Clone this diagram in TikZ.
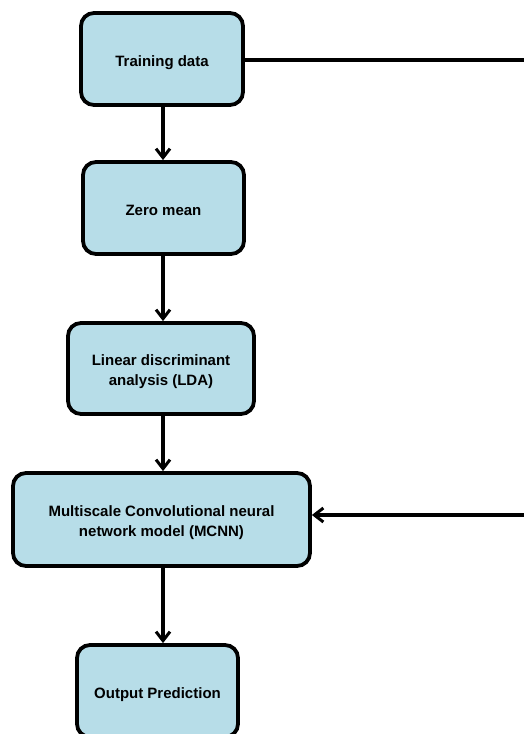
\documentclass[tikz,border=0pt]{standalone}
\usepackage{fontspec}
\setmainfont{Liberation Sans}
\usetikzlibrary{arrows.meta}
\definecolor{boxfill}{HTML}{B7DDE8}
% stage caption, set a little below the geometric centre of its box
\newcommand{\stagetext}[1]{\raisebox{-3pt}[\height][\depth]{\begin{tabular}{@{}c@{}}#1\end{tabular}}}
\tikzset{
  stage/.style={draw=black, line width=3.8pt, fill=boxfill, rounded corners=13pt,
    inner sep=0pt, font=\bfseries\fontsize{15}{20}\selectfont},
  flow/.style={line width=3.2pt, -{Straight Barb[length=9pt, width=14pt, line width=3pt]}},
  feed/.style={line width=3.4pt}
}
\begin{document}
\begin{tikzpicture}[x=1pt, y=-1pt]
  \useasboundingbox (0,0) rectangle (524,734);
  \clip (0,0) rectangle (524,734);
  % process stages
  \node[stage, minimum width=162pt, minimum height=92pt] (train) at (162,59) {\stagetext{Training data}};
  \node[stage, minimum width=161pt, minimum height=92pt] (zero) at (163.5,208) {\stagetext{Zero mean}};
  \node[stage, minimum width=186pt, minimum height=91pt] (lda) at (161,368.5) {\stagetext{Linear discriminant\\analysis (LDA)}};
  \node[stage, minimum width=297pt, minimum height=93pt] (mcnn) at (161.5,519.5) {\stagetext{Multiscale Convolutional neural\\network model (MCNN)}};
  \node[stage, minimum width=161pt, minimum height=92pt] (out) at (157.5,691) {\stagetext{Output Prediction}};
  % main flow runs down a common vertical line
  \coordinate (spine) at (163,0);
  \draw[flow] (train.south -| spine) -- (zero.north -| spine);
  \draw[flow] (zero.south -| spine) -- (lda.north -| spine);
  \draw[flow] (lda.south -| spine) -- (mcnn.north -| spine);
  \draw[flow] (mcnn.south -| spine) -- (out.north -| spine);
  % side path from the training data back into the network model
  \coordinate (edgeTop) at (540,60);
  \coordinate (edgeBot) at (540,515);
  \draw[feed] (train.east |- edgeTop) -- (edgeTop) -- (edgeBot);
  \draw[flow] (edgeBot) -- (mcnn.east |- edgeBot);
\end{tikzpicture}
\end{document}
